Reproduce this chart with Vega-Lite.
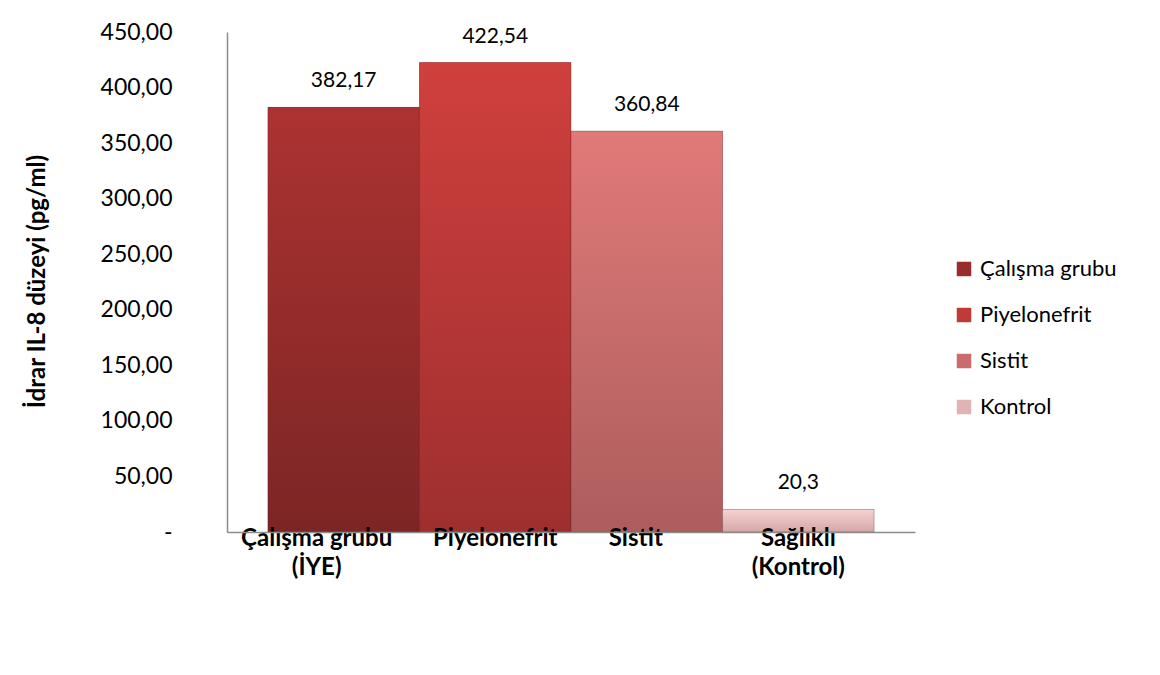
{
  "$schema": "https://vega.github.io/schema/vega-lite/v6.json",
  "width": 688,
  "height": 500,
  "autosize": {"type": "none"},
  "padding": {"left": 227, "top": 32, "right": 245, "bottom": 143},
  "background": "white",
  "config": {"view": {"stroke": null}, "font": "Lato"},
  "data": {
    "values": [
      {"kategori": "Çalışma grubu|(İYE)", "grup": "Çalışma grubu", "deger": 382.17, "etiket": "382,17"},
      {"kategori": "Piyelonefrit", "grup": "Piyelonefrit", "deger": 422.54, "etiket": "422,54"},
      {"kategori": "Sistit", "grup": "Sistit", "deger": 360.84, "etiket": "360,84"},
      {"kategori": "Sağlıklı|(Kontrol)", "grup": "Kontrol", "deger": 20.3, "etiket": "20,3"}
    ]
  },
  "encoding": {
    "x": {
      "field": "kategori", "type": "nominal", "sort": null,
      "scale": {"paddingInner": 0, "paddingOuter": 0.27},
      "axis": {
        "title": null, "labelAngle": 0, "labelExpr": "split(datum.label, '|')",
        "labelFont": "Lato", "labelFontSize": 24, "labelFontWeight": "bold", "labelColor": "#000000",
        "labelBaseline": "top", "labelLineHeight": 29, "labelPadding": -6,
        "labelOffset": {"condition": [{"test": "indexof(datum.value, 'Çalışma') == 0", "value": -27}, {"test": "datum.value == 'Sistit'", "value": -11}], "value": 0},
        "ticks": false, "domainColor": "#8c8c8c", "domainWidth": 1.5, "zindex": 1
      }
    },
    "y": {
      "field": "deger", "type": "quantitative",
      "scale": {"domain": [0, 450], "nice": false},
      "axis": {
        "title": "İdrar IL-8 düzeyi (pg/ml)", "titleFont": "Lato", "titleFontSize": 24, "titleFontWeight": "bold",
        "titleColor": "#000000", "titleAngle": -90, "titleX": -190, "titleY": 249, "titleAlign": "center", "titleBaseline": "middle",
        "values": [0, 50, 100, 150, 200, 250, 300, 350, 400, 450],
        "labelExpr": "datum.value == 0 ? '-' : replace(format(datum.value, '.2f'), '.', ',')",
        "labelFont": "Lato", "labelFontSize": 23, "labelColor": "#000000", "labelPadding": 55,
        "ticks": false, "grid": false, "domainColor": "#8c8c8c", "domainWidth": 1.5
      }
    }
  },
  "layer": [
    {
      "mark": {"type": "bar"},
      "encoding": {
        "color": {
          "field": "grup", "type": "nominal", "sort": ["Çalışma grubu", "Piyelonefrit", "Sistit", "Kontrol"],
          "scale": {
            "domain": ["Çalışma grubu", "Piyelonefrit", "Sistit", "Kontrol"],
            "range": ["#9a2d2c", "#c03a38", "#cc6b6b", "#e0b4b4"]
          },
          "legend": {
            "title": null, "orient": "none", "legendX": 726, "legendY": 226,
            "symbolType": "square", "symbolSize": 210, "symbolStrokeWidth": 0,
            "labelFont": "Lato", "labelFontSize": 22, "labelColor": "#000000", "labelOffset": 5,
            "rowPadding": 24
          }
        }
      }
    },
    {
      "mark": {"type": "bar", "stroke": "#5a1a1a", "strokeOpacity": 0.3, "strokeWidth": 1},
      "encoding": {
        "color": {
          "condition": [
            {"test": "datum.grup === 'Çalışma grubu'", "value": {"gradient": "linear", "x1": 0, "y1": 0, "x2": 0, "y2": 1, "stops": [{"offset": 0, "color": "#ac3331"}, {"offset": 1, "color": "#7c2525"}]}},
            {"test": "datum.grup === 'Piyelonefrit'", "value": {"gradient": "linear", "x1": 0, "y1": 0, "x2": 0, "y2": 1, "stops": [{"offset": 0, "color": "#cf403d"}, {"offset": 1, "color": "#9e2f2f"}]}},
            {"test": "datum.grup === 'Sistit'", "value": {"gradient": "linear", "x1": 0, "y1": 0, "x2": 0, "y2": 1, "stops": [{"offset": 0, "color": "#e07a79"}, {"offset": 1, "color": "#ad5d5d"}]}}
          ],
          "value": {"gradient": "linear", "x1": 0, "y1": 0, "x2": 0, "y2": 1, "stops": [{"offset": 0, "color": "#f6d2d2"}, {"offset": 1, "color": "#d6a6a6"}]}
        }
      }
    },
    {
      "mark": {"type": "text", "baseline": "middle", "dy": -26, "font": "Lato", "fontSize": 21, "color": "#000000"},
      "encoding": {"text": {"field": "etiket"}}
    }
  ]
}
